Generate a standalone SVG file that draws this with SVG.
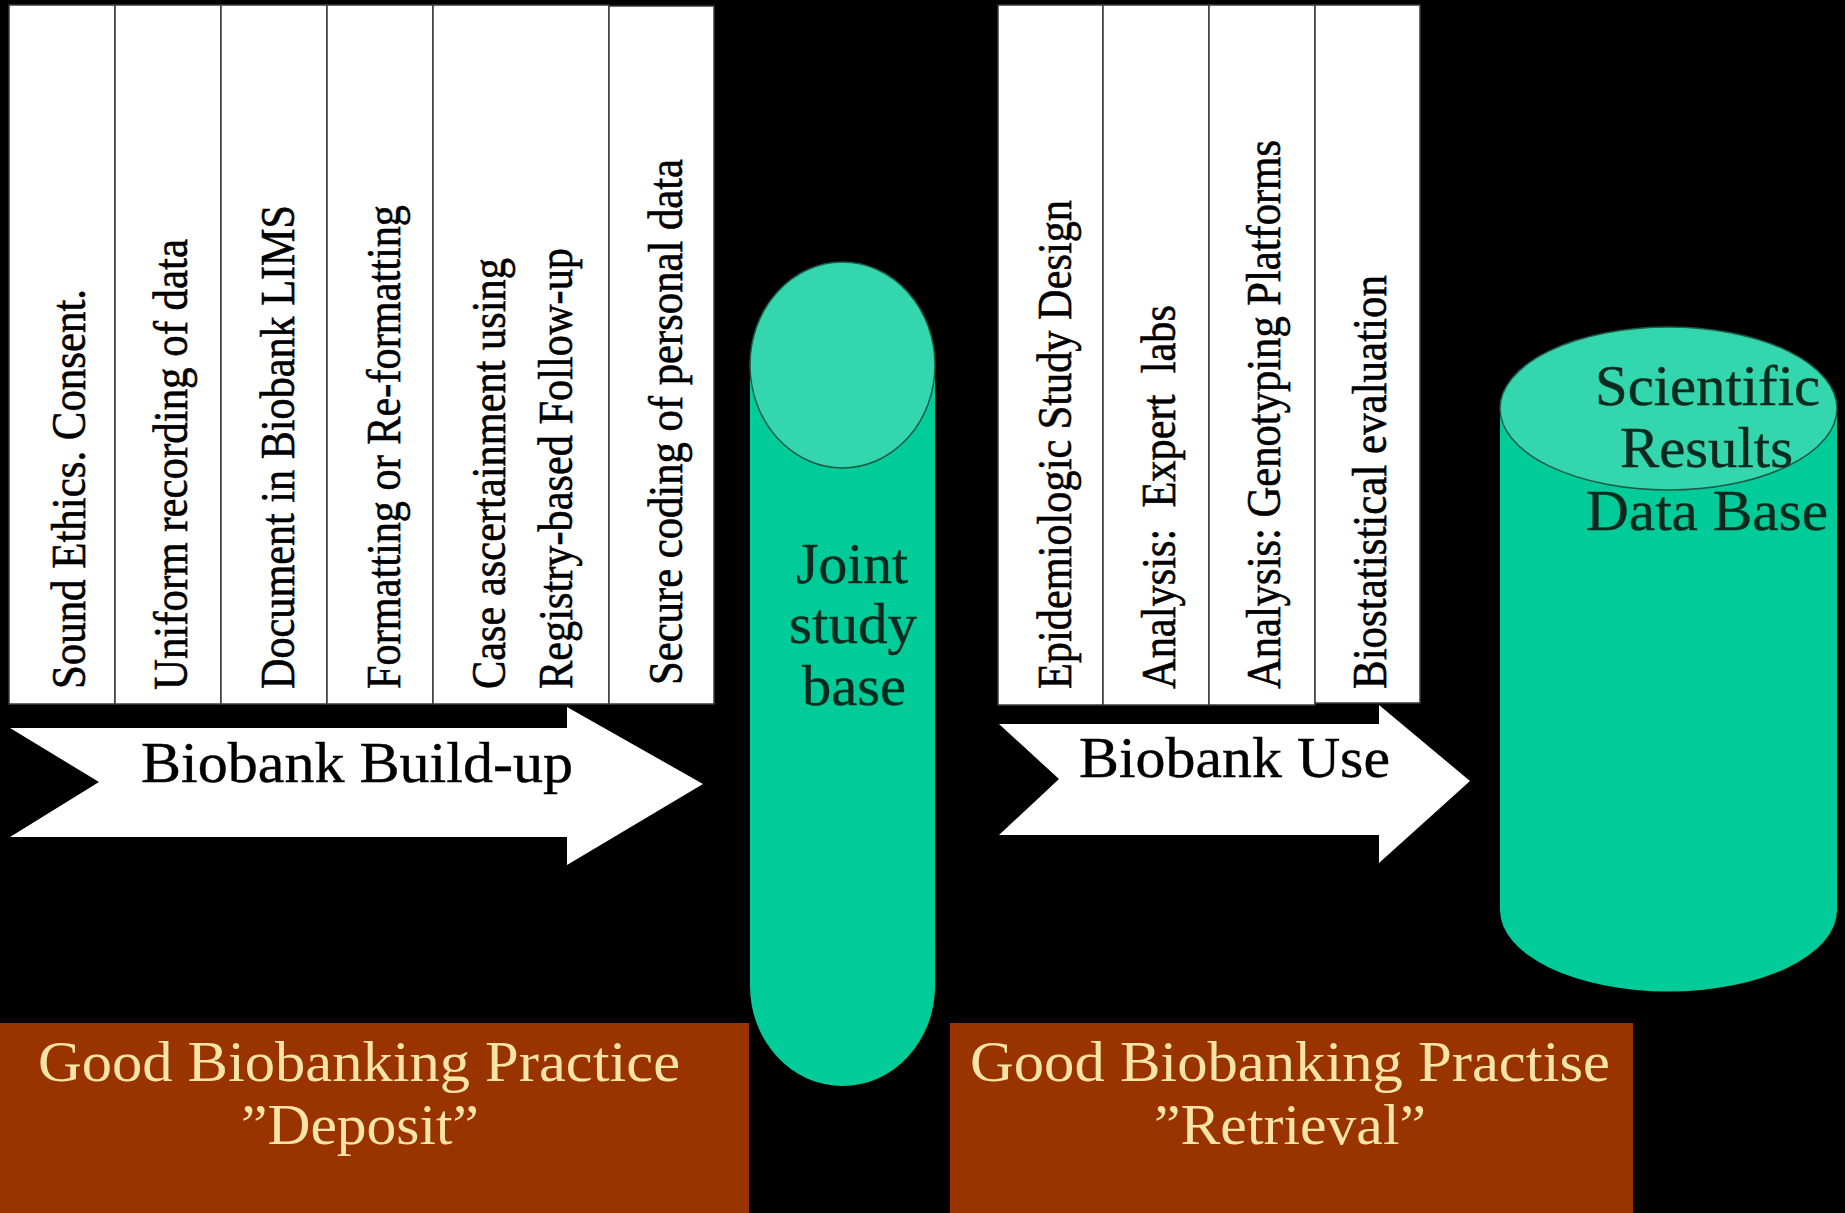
<svg xmlns="http://www.w3.org/2000/svg" width="1845" height="1213" viewBox="0 0 1845 1213">
<style>
.panel{fill:#ffffff;stroke:#3a3a3a;stroke-width:1.5}
.vt{font-family:"Liberation Serif","Times New Roman",serif;font-size:49px;fill:#000;stroke:#000;stroke-width:0.6;white-space:pre}
.ht{font-family:"Liberation Serif","Times New Roman",serif;font-size:56px;fill:#000;stroke:#000;stroke-width:0.4}
.ct{font-family:"Liberation Serif","Times New Roman",serif;font-size:56px;fill:#0a2a1e;stroke:#0a2a1e;stroke-width:0.4}
.bt{font-family:"Liberation Serif","Times New Roman",serif;font-size:56px;fill:#f7e4a6}
.body{fill:#00cc99}
.top{fill:#33d6ad;stroke:#1d5a47;stroke-width:1.5}
.arrow{fill:#ffffff}
.brown{fill:#993300}
</style>
<rect x="0" y="0" width="1845" height="1213" fill="#000"/>

<g id="deposit-panels">
  <g id="p-ethics"><rect class="panel" x="9" y="5" width="106" height="699"/>
    <text class="vt" transform="translate(85,689) rotate(-90)" textLength="400" lengthAdjust="spacingAndGlyphs">Sound Ethics. Consent.</text></g>
  <g id="p-uniform"><rect class="panel" x="115" y="5" width="106" height="699"/>
    <text class="vt" transform="translate(187,690) rotate(-90)" textLength="451" lengthAdjust="spacingAndGlyphs">Uniform recording of data</text></g>
  <g id="p-document"><rect class="panel" x="221" y="5" width="106" height="699"/>
    <text class="vt" transform="translate(294,689) rotate(-90)" textLength="484" lengthAdjust="spacingAndGlyphs">Document in Biobank LIMS</text></g>
  <g id="p-formatting"><rect class="panel" x="327" y="5" width="106" height="699"/>
    <text class="vt" transform="translate(400,689) rotate(-90)" textLength="484" lengthAdjust="spacingAndGlyphs">Formatting or Re-formatting</text></g>
  <g id="p-case"><rect class="panel" x="433" y="5" width="176" height="699"/>
    <text class="vt" transform="translate(505,689) rotate(-90)" textLength="431" lengthAdjust="spacingAndGlyphs">Case ascertainment using</text>
    <text class="vt" transform="translate(572,689) rotate(-90)" textLength="441" lengthAdjust="spacingAndGlyphs">Registry-based Follow-up</text></g>
  <g id="p-secure"><rect class="panel" x="609" y="6" width="105" height="698"/>
    <text class="vt" transform="translate(682,685) rotate(-90)" textLength="526" lengthAdjust="spacingAndGlyphs">Secure coding of personal data</text></g>
</g>

<g id="retrieval-panels">
  <g id="p-epidemiologic"><rect class="panel" x="998" y="5" width="105" height="700"/>
    <text class="vt" transform="translate(1071,689) rotate(-90)" textLength="489" lengthAdjust="spacingAndGlyphs">Epidemiologic Study Design</text></g>
  <g id="p-expert"><rect class="panel" x="1103" y="5" width="106" height="700"/>
    <text class="vt" transform="translate(1175,689) rotate(-90)" textLength="384" lengthAdjust="spacingAndGlyphs">Analysis:  Expert  labs</text></g>
  <g id="p-genotyping"><rect class="panel" x="1209" y="5" width="106" height="700"/>
    <text class="vt" transform="translate(1280,689) rotate(-90)" textLength="549" lengthAdjust="spacingAndGlyphs">Analysis: Genotyping Platforms</text></g>
  <g id="p-biostat"><rect class="panel" x="1315" y="5" width="105" height="698"/>
    <text class="vt" transform="translate(1386,689) rotate(-90)" textLength="414" lengthAdjust="spacingAndGlyphs">Biostatistical evaluation</text></g>
</g>

<g id="connectors">
  <g id="arrow-buildup">
    <polygon class="arrow" points="10,728 567,728 567,707 703,784 567,865 567,837 10,837 99,782"/>
    <text class="ht" x="141" y="782" textLength="432" lengthAdjust="spacingAndGlyphs">Biobank Build-up</text>
  </g>
  <g id="arrow-use">
    <polygon class="arrow" points="999,724 1379,724 1379,705 1470,781 1379,863 1379,835 999,835 1059,779"/>
    <text class="ht" x="1079" y="777" textLength="311" lengthAdjust="spacingAndGlyphs">Biobank Use</text>
  </g>
</g>

<g id="joint-study-base">
  <rect class="body" x="750" y="365" width="185" height="621"/>
  <ellipse class="body" cx="842.5" cy="986" rx="92.5" ry="100"/>
  <ellipse class="top" cx="842.5" cy="365" rx="92.5" ry="103"/>
  <text class="ct" x="796" y="583" textLength="112" lengthAdjust="spacingAndGlyphs">Joint</text>
  <text class="ct" x="789" y="643" textLength="128" lengthAdjust="spacingAndGlyphs">study</text>
  <text class="ct" x="802" y="705" textLength="104" lengthAdjust="spacingAndGlyphs">base</text>
</g>

<g id="scientific-results-db">
  <rect class="body" x="1500" y="408" width="337" height="502"/>
  <ellipse class="body" cx="1668.5" cy="910" rx="168.5" ry="81.5"/>
  <ellipse class="top" cx="1668.5" cy="408.5" rx="168.5" ry="81.5"/>
  <text class="ct" x="1595" y="405" textLength="225" lengthAdjust="spacingAndGlyphs">Scientific</text>
  <text class="ct" x="1620" y="467" textLength="173" lengthAdjust="spacingAndGlyphs">Results</text>
  <text class="ct" x="1586" y="530" textLength="242" lengthAdjust="spacingAndGlyphs">Data Base</text>
</g>

<g id="gbp-deposit">
  <rect class="brown" x="0" y="1023" width="749" height="190"/>
  <text class="bt" x="38" y="1081" textLength="642" lengthAdjust="spacingAndGlyphs">Good Biobanking Practice</text>
  <text class="bt" x="241" y="1144" textLength="238" lengthAdjust="spacingAndGlyphs">”Deposit”</text>
</g>

<g id="gbp-retrieval">
  <rect class="brown" x="950" y="1023" width="683" height="190"/>
  <text class="bt" x="970" y="1081" textLength="640" lengthAdjust="spacingAndGlyphs">Good Biobanking Practise</text>
  <text class="bt" x="1154" y="1144" textLength="272" lengthAdjust="spacingAndGlyphs">”Retrieval”</text>
</g>
</svg>
